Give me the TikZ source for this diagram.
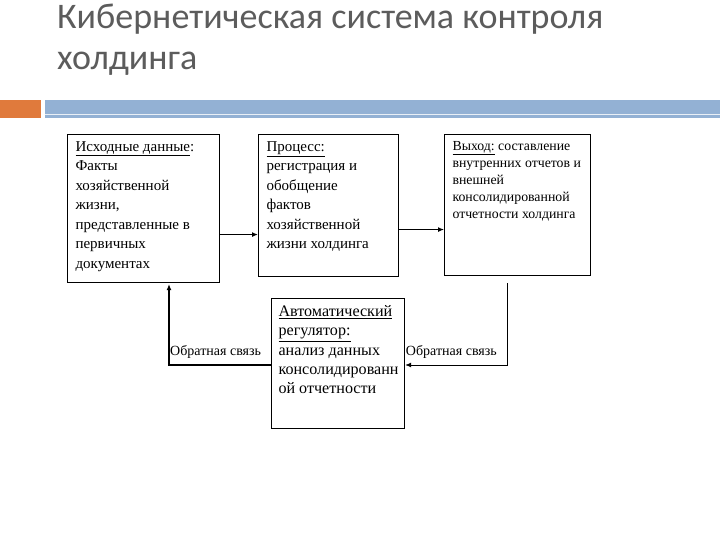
\documentclass[tikz,border=0pt]{standalone}
\usepackage{fontspec}
\setmainfont{Liberation Serif}
\newfontfamily\titlefont{Carlito}
\usetikzlibrary{arrows.meta, positioning, calc}
\definecolor{titlegrey}{HTML}{5C5C5C}
\definecolor{barorange}{HTML}{E07A3C}
\definecolor{barblue}{HTML}{93B1D4}
\newcommand{\cellbody}[3]{\parbox[t][#2][t]{#1}{#3}}

\begin{document}
\begin{tikzpicture}[
  x=1pt, y=-1pt,
  title/.style={font=\titlefont\fontsize{36}{40}\selectfont, text=titlegrey,
                inner sep=0pt},
  box/.style={draw, line width=1.1pt, anchor=north west, inner xsep=8pt,
              inner ysep=7pt, align=left},
  big/.style={font=\fontsize{15}{19.5}\selectfont},
  huge/.style={font=\fontsize{16.1}{19.3}\selectfont},
  small/.style={font=\fontsize{13.8}{17}\selectfont},
  lbl/.style={font=\fontsize{14}{16}\selectfont, inner sep=1pt},
  arr/.style={-{Latex[length=6pt,width=5pt]}, line width=1pt},
  fatarr/.style={arr, line width=1.8pt}
]
\useasboundingbox (0,0) rectangle (720,540);

%% heading
\node[title, anchor=base west] (ttl1) at (57,29) {Кибернетическая система контроля};
\node[title, anchor=base west] (ttl2) at (57,70) {холдинга};

%% bars under the heading
\fill[barorange] (0,100) rectangle (41,118);
\fill[barblue] (45,100) rectangle (720,118);
\draw[white!80!barblue, line width=1pt] (45,115) -- (720,115);

%% boxes
\node[box, big] (src) at (67,134)
  {\cellbody{136pt}{134pt}{\underline{Исходные данные}:\\Факты\\хозяйственной\\жизни,\\представленные в\\первичных\\документах}};
\node[box, big] (proc) at (258,134)
  {\cellbody{124pt}{128pt}{\underline{Процесс:}\\регистрация и\\обобщение\\фактов\\хозяйственной\\жизни холдинга}};
\node[box, small] (out) at (444,134)
  {\cellbody{130pt}{127pt}{\underline{Выход:} составление\\внутренних отчетов и\\внешней\\консолидированной\\отчетности холдинга}};
\node[box, huge, inner xsep=7pt] (reg) at (271,298)
  {\cellbody{119pt}{116pt}{\underline{Автоматический}\\\underline{регулятор:}\\анализ данных\\консолидированн\\ой отчетности}};

%% forward flow
\draw[fatarr] ([yshift=-26pt]src.east) -- ([yshift=-26pt]src.east -| proc.west);
\draw[arr] ([yshift=-24pt]proc.east) -- ([yshift=-24pt]proc.east -| out.west);

%% feedback loops
\coordinate (rturn) at (507,365);
\coordinate (lturn) at (169,365);
\draw[arr] ([yshift=-7pt]out.south -| rturn) -- (rturn) -- (rturn -| reg.east);
\draw[fatarr] (reg.west |- lturn) -- (lturn) -- ([yshift=-1pt]lturn |- src.south);

\node[lbl, anchor=south west] (fbl) at ([yshift=5pt]lturn) {Обратная связь};
\node[lbl, anchor=south east] (fbr) at ([xshift=-9pt,yshift=5pt]rturn) {Обратная связь};

\end{tikzpicture}
\end{document}
